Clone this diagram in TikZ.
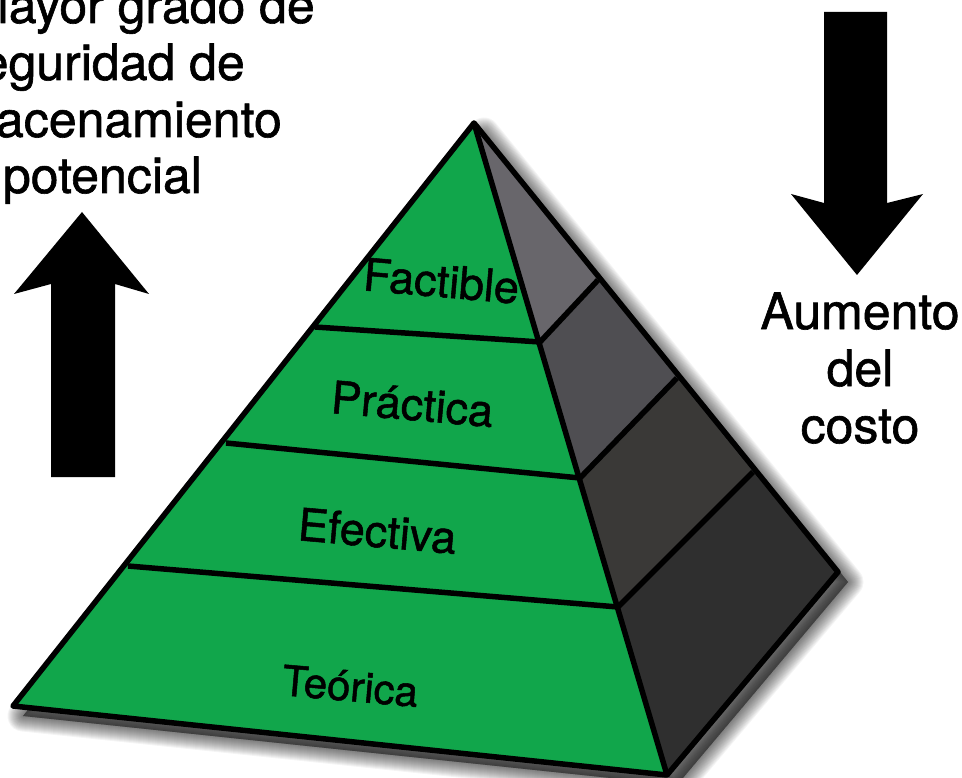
\documentclass[tikz,border=0pt]{standalone}
\usepackage{fontspec}
\setmainfont{TeX Gyre Heros}[FakeBold=1.2]
\usetikzlibrary{calc}
\definecolor{pyrgreen}{RGB}{17,166,75}
\definecolor{face1}{RGB}{104,102,107}
\definecolor{face2}{RGB}{79,78,82}
\definecolor{face3}{RGB}{58,57,55}
\definecolor{face4}{RGB}{47,47,47}
\tikzset{
  edge/.style={draw=black, line width=5.5pt, line join=round},
  band/.style={fill=pyrgreen},
  bigarrow/.style={fill=black},
  lbl/.style={font=\fontsize{45}{50}\selectfont, anchor=base, rotate=-5, inner sep=0pt},
  side/.style={font=\fontsize{50}{57}\selectfont, inner sep=0pt}
}
\begin{document}
\begin{tikzpicture}[x=1pt,y=-1pt]
  \useasboundingbox (0,0) rectangle (962,778);
  % corners of the pyramid
  \coordinate (A) at (474,123);
  \coordinate (L) at (13,706);
  \coordinate (F) at (667,775);
  \coordinate (R) at (838,572);
  % band cuts: left edge, ridge, right edge
  \coordinate (l1) at (315,327);
  \coordinate (l2) at (226,443);
  \coordinate (l3) at (128,566);
  \coordinate (f1) at (540,342);
  \coordinate (f2) at (580,478);
  \coordinate (f3) at (618,607);
  \coordinate (r1) at (598,280);
  \coordinate (r2) at (677,378);
  \coordinate (r3) at (753,472);
  % soft shadow
  \foreach \w in {1,3,...,31}{
    \filldraw[black, opacity=0.045, line width=\w pt, line join=round,
      transform canvas={xshift=10pt,yshift=-10pt}] (A)--(L)--(F)--(R)--cycle;}
  % right face
  \fill[face1] (A)--(f1)--(r1)--cycle;
  \fill[face2] (f1)--(f2)--(r2)--(r1)--cycle;
  \fill[face3] (f2)--(f3)--(r3)--(r2)--cycle;
  \fill[face4] (f3)--(F)--(R)--(r3)--cycle;
  % front face
  \fill[band] (A)--(L)--(F)--cycle;
  \draw[edge] (A)--(L)--(F)--(R)--cycle;
  \draw[edge] (A)--(F);
  \draw[edge] (l1)--(f1)--(r1);
  \draw[edge] (l2)--(f2)--(r2);
  \draw[edge] (l3)--(f3)--(r3);
  % labels on the bands
  \node[lbl] (factible) at (440,297) {Factible};
  \node[lbl] (practica) at (411,420) {Práctica};
  \node[lbl] (efectiva) at (376,547) {Efectiva};
  \node[lbl, font=\fontsize{42}{46}\selectfont] (teorica) at (349,701) {Teórica};
  % up arrow
  \fill[bigarrow] (82,212)--(149,294)--(115,284)--(115,477)--(51,477)--(51,284)--(14,294)--cycle;
  % down arrow
  \fill[bigarrow] (857,275)--(923,194)--(887,203)--(887,12)--(824,12)--(824,203)--(791,194)--cycle;
  % side texts
  \node[side, anchor=base east] (mayor1) at (315,23) {Mayor grado de};
  \node[side, anchor=base east] (mayor2) at (245,80) {seguridad de};
  \node[side, anchor=base east] (mayor3) at (282,137) {almacenamiento};
  \node[side, anchor=base east] (mayor4) at (202,193) {potencial};
  \node[side, align=center, anchor=base] (costo) at (860,443) {Aumento\\del\\costo};
\end{tikzpicture}
\end{document}
